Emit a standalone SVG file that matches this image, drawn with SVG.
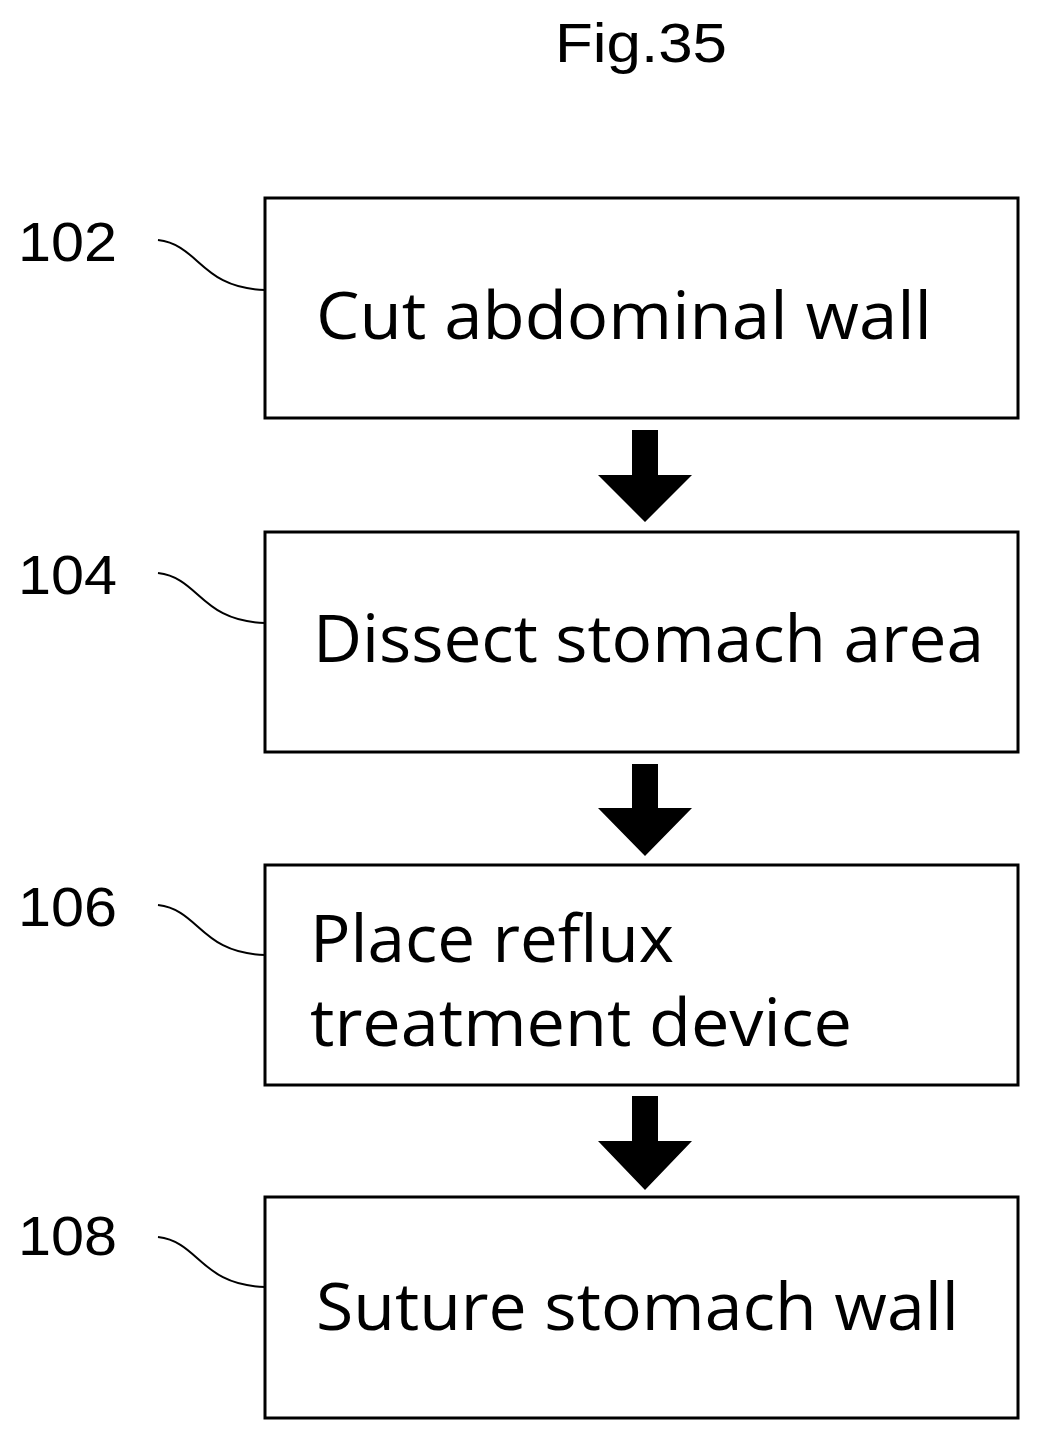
<svg xmlns="http://www.w3.org/2000/svg" width="1039" height="1444" viewBox="0 0 1039 1444">
<style>
.box{fill:#fff;stroke:#000;stroke-width:3}
.t{font-family:"Open Sans",sans-serif;font-size:66px;fill:#000}
.n{font-family:"Liberation Sans",Arial,sans-serif;font-size:55px;fill:#000}
.lead{fill:none;stroke:#000;stroke-width:2}
</style>
<rect width="1039" height="1444" fill="#fff"/>
<text x="555" y="62" class="n" textLength="172" lengthAdjust="spacingAndGlyphs">Fig.35</text>
<g id="node102">
<rect class="box" x="265" y="198" width="753" height="220"/>
<text x="316" y="339" class="t" textLength="616" lengthAdjust="spacingAndGlyphs">Cut abdominal wall</text>
<text x="18" y="261" class="n" textLength="99" lengthAdjust="spacingAndGlyphs">102</text>
<path class="lead" d="M158,240 C200,245 200,288 265,290"/>
</g>
<g id="node104">
<rect class="box" x="265" y="532" width="753" height="220"/>
<text x="313" y="662" class="t" textLength="671" lengthAdjust="spacingAndGlyphs">Dissect stomach area</text>
<text x="18" y="594" class="n" textLength="99" lengthAdjust="spacingAndGlyphs">104</text>
<path class="lead" d="M158,573 C200,578 200,621 265,623"/>
</g>
<g id="node106">
<rect class="box" x="265" y="865" width="753" height="220"/>
<text x="310" y="962" class="t" textLength="364" lengthAdjust="spacingAndGlyphs">Place reflux</text>
<text x="310" y="1046" class="t" textLength="542" lengthAdjust="spacingAndGlyphs">treatment device</text>
<text x="18" y="926" class="n" textLength="99" lengthAdjust="spacingAndGlyphs">106</text>
<path class="lead" d="M158,905 C200,910 200,953 265,955"/>
</g>
<g id="node108">
<rect class="box" x="265" y="1197" width="753" height="221"/>
<text x="316" y="1330" class="t" textLength="643" lengthAdjust="spacingAndGlyphs">Suture stomach wall</text>
<text x="18" y="1255" class="n" textLength="99" lengthAdjust="spacingAndGlyphs">108</text>
<path class="lead" d="M158,1237 C200,1242 200,1285 265,1287"/>
</g>
<g id="connectors" fill="#000">
<path d="M632,430 H658 V475 H692 L645,522 L598,475 H632 Z"/>
<path d="M632,764 H658 V808 H692 L645,856 L598,808 H632 Z"/>
<path d="M632,1096 H658 V1141 H692 L645,1190 L598,1141 H632 Z"/>
</g>
</svg>
